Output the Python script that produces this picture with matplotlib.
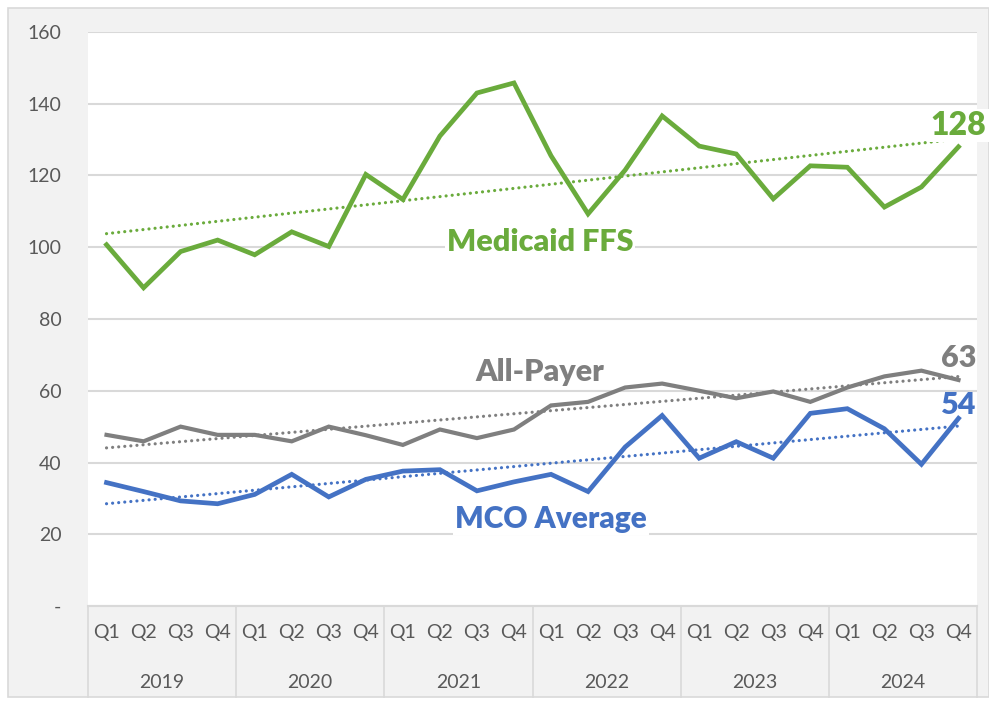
import numpy as np
import matplotlib.pyplot as plt
import matplotlib.transforms as mtransforms
from matplotlib.patches import Rectangle

years = ['2019', '2020', '2021', '2022', '2023', '2024']
quarters = ['Q1', 'Q2', 'Q3', 'Q4']

medicaid_ffs = [100.7, 88.7, 98.8, 102.0, 97.9, 104.3, 100.2, 120.3,
                113.3, 131.0, 143.0, 145.8, 125.5, 109.3, 121.5, 136.6,
                128.2, 126.0, 113.5, 122.7, 122.3, 111.2, 116.8, 128.0]
all_payer = [47.7, 45.9, 50.0, 47.7, 47.7, 45.9, 50.0, 47.6,
             44.9, 49.2, 46.8, 49.2, 55.9, 56.9, 60.9, 62.0,
             60.0, 57.9, 59.8, 56.9, 60.9, 64.0, 65.6, 63.0]
mco_avg = [34.4, 31.9, 29.3, 28.5, 31.1, 36.7, 30.4, 35.3,
           37.6, 38.0, 32.1, 34.6, 36.7, 31.9, 44.3, 53.1,
           41.2, 45.8, 41.2, 53.7, 55.0, 49.4, 39.5, 52.3]

GREEN = '#6aab3c'
GRAY = '#7f7f7f'
BLUE = '#4472c4'
TXT = '#595959'
GRID = '#d9d9d9'

plt.rcParams['font.family'] = ['Lato', 'DejaVu Sans']

fig = plt.figure(figsize=(9.89, 7.03), dpi=100)
fig.patch.set_facecolor('white')
fig.patches.append(Rectangle((8/989, 6/703), 1 - 8/989, 1 - 14/703, transform=fig.transFigure,
                             facecolor='#f2f2f2', edgecolor=GRID, lw=1.2, zorder=-5))

ax = fig.add_axes([88/989, 1 - 606/703, 889/989, 574/703])
ax.set_facecolor('white')

n = len(medicaid_ffs)
x = np.arange(n)

series = [(medicaid_ffs, GREEN, 3.4), (all_payer, GRAY, 3.0), (mco_avg, BLUE, 3.4)]
for vals, col, lw in series:
    ax.plot(x, vals, color=col, lw=lw, solid_joinstyle='miter', zorder=3)
    # linear trendline
    k, b = np.polyfit(x, vals, 1)
    ax.plot(x, k * x + b, color=col, lw=2.3, linestyle=(0, (0.01, 1.9)),
            dash_capstyle='round', zorder=2)

ax.set_xlim(-0.5, n - 0.5)
ax.set_ylim(0, 160)
ax.set_yticks(range(0, 161, 20))
ax.set_yticklabels(['-'] + [str(v) for v in range(20, 161, 20)])
ax.yaxis.grid(True, color=GRID, lw=1.5)
ax.set_axisbelow(True)
for s in ['left', 'right', 'top']:
    ax.spines[s].set_visible(False)
ax.spines['bottom'].set_color(GRID)
ax.spines['bottom'].set_linewidth(1.5)
ax.tick_params(axis='y', length=0, pad=19, labelsize=14, labelcolor=TXT)

ax.set_xticks(x)
ax.set_xticklabels(quarters * len(years))
ax.tick_params(axis='x', length=0, pad=13, labelsize=14, labelcolor=TXT)

trans = mtransforms.blended_transform_factory(ax.transData, ax.transAxes)
for i, yr in enumerate(years):
    ax.text(i * 4 + 1.5, -0.133, yr, transform=trans, ha='center', va='center',
            fontsize=14, color=TXT)
for i in range(len(years) + 1):
    ax.plot([i * 4 - 0.5] * 2, [0, -0.158], transform=trans, color=GRID, lw=1.2,
            clip_on=False)

box = dict(facecolor='white', edgecolor='none', pad=1.5)
ax.text(11.7, 101.4, 'Medicaid FFS', color=GREEN, fontsize=22, fontweight='heavy',
        ha='center', va='center', bbox=box, zorder=4)
ax.text(11.7, 65.3, 'All-Payer', color=GRAY, fontsize=22, fontweight='heavy',
        ha='center', va='center', bbox=box, zorder=4)
ax.text(12.0, 24.2, 'MCO Average', color=BLUE, fontsize=21.5, fontweight='heavy',
        ha='center', va='center', bbox=box, zorder=4)

ax.text(23.0, 134, f'{medicaid_ffs[-1]:.0f}', color=GREEN, fontsize=23, fontweight='heavy',
        ha='center', va='center', bbox=box, zorder=4)
ax.text(23.0, 69, f'{all_payer[-1]:.0f}', color=GRAY, fontsize=22, fontweight='heavy',
        ha='center', va='center', zorder=4)
ax.text(23.0, 56, '54', color=BLUE, fontsize=22, fontweight='heavy',
        ha='center', va='center', zorder=4)

fig.savefig('out.png', dpi=100)
